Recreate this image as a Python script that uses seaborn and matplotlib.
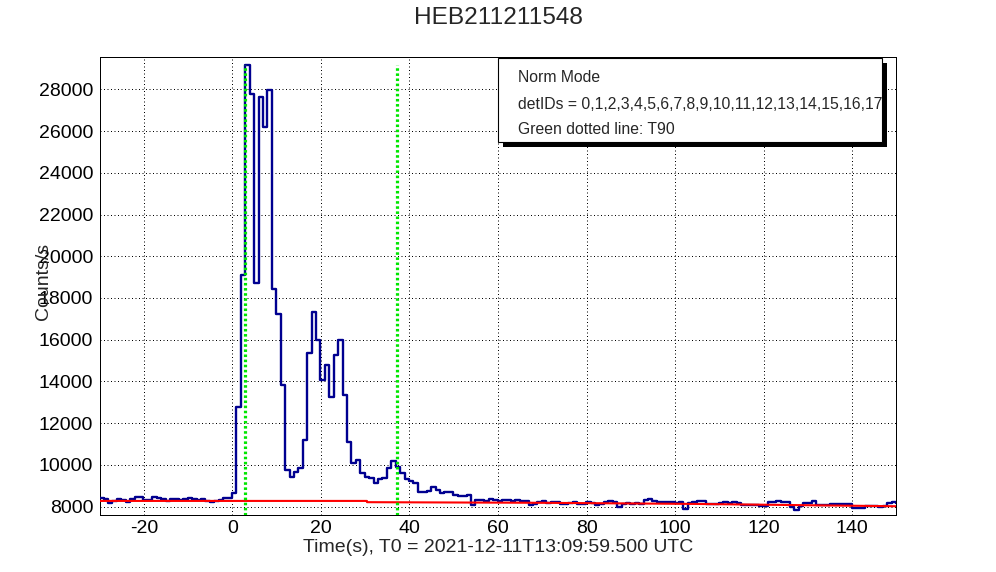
import numpy as np
import pandas as pd
import matplotlib
matplotlib.use("Agg")
import matplotlib.pyplot as plt
from matplotlib.patches import Rectangle
from matplotlib.ticker import MultipleLocator
import seaborn as sns


TITLE = "HEB211211548"
X_LABEL = "Time(s), T0 = 2021-12-11T13:09:59.500 UTC"
Y_LABEL = "Counts/s"
LEGEND_LINES = [
    "Norm Mode",
    "detIDs = 0,1,2,3,4,5,6,7,8,9,10,11,12,13,14,15,16,17",
    "Green dotted line: T90",
]

# 1 s light-curve bins, first bin starts at -30.1 s
BIN_START = -30.1
BIN_WIDTH = 1.0

pre_burst_rate = [
    8400, 8380, 8180, 8250, 8370, 8330, 8200, 8370, 8450, 8480,
    8300, 8320, 8440, 8400, 8370, 8250, 8360, 8370, 8320, 8380,
    8400, 8370, 8320, 8370, 8290, 8240, 8290, 8320, 8400, 8420,
]

burst_rate = [
    8640, 12800, 19100, 29150, 27800, 18700, 27650, 26200, 27950, 18450,
    17250, 13830, 9750, 9440, 9680, 9840, 11200, 15350, 17340, 15990,
    14070, 14800, 13270, 15270, 15990, 13350, 11120, 10080, 10240, 9600,
    9440, 9360, 9150, 9310, 9350, 9840, 10200, 9890, 9600, 9310,
    9250, 9150, 8720, 8720, 8760, 8930, 8800, 8640, 8700, 8720,
    8560, 8510, 8520, 8560, 8080, 8320,
]

tail_rate = [
    8330, 8290, 8350, 8310, 8270, 8330, 8300, 8260, 8330, 8290,
    8250, 8060, 8120, 8220, 8250, 8180, 8200, 8240, 8130, 8150,
    8180, 8210, 8120, 8150, 8230, 8180, 8090, 8140, 8200, 8260,
    8240, 7960, 8130, 8160, 8120, 8180, 8150, 8300, 8350, 8250,
    8220, 8200, 8240, 8200, 8180, 8220, 7900, 8190, 8200, 8270,
    8280, 8150, 8120, 8140, 8190, 8200, 8180, 8210, 8190, 8100,
    8080, 8060, 8090, 8040, 8030, 8240, 8230, 8250, 8220, 8240,
    8000, 7860, 8010, 8190, 8180, 8290, 8070, 8090, 8080, 8130,
    8120, 8140, 8130, 8120, 7940, 7920, 7930, 8030, 8040, 8020,
    8000, 8010, 8180, 8200, 8190,
]

# fitted background (red)
bkg_time = [-30, 30.4, 30.4, 70, 105, 150]
bkg_rate = [8275, 8275, 8215, 8185, 8130, 8020]

T90_START = 2.8
T90_END = 37.1

X_RANGE = (-30, 150)
Y_RANGE = (7610, 29540)

HIST_COLOR = "#000090"
BKG_COLOR = "#ff0000"
T90_COLOR = "#00e600"


def build_hist_frame():
    rates = pre_burst_rate + burst_rate + tail_rate
    left = BIN_START + np.arange(len(rates)) * BIN_WIDTH
    time = np.append(left, left[-1] + BIN_WIDTH)
    rate = np.append(rates, rates[-1])
    return pd.DataFrame({"time": time, "rate": rate})


def main():
    sns.set_style("white")
    plt.rcParams["font.family"] = ["Liberation Sans", "DejaVu Sans"]
    plt.rcParams["axes.unicode_minus"] = False

    fig = plt.figure(figsize=(9.96, 5.72), dpi=100)
    ax = fig.add_axes([0.1, 0.1, 0.8, 0.8])

    hist_df = build_hist_frame()
    bkg_df = pd.DataFrame({"time": bkg_time, "rate": bkg_rate})

    ax.grid(True, which="major", color="black", linewidth=0.72,
            linestyle=(0, (1, 2.5)))
    ax.set_axisbelow(True)

    sns.lineplot(data=hist_df, x="time", y="rate", drawstyle="steps-post",
                 color=HIST_COLOR, linewidth=1.7, estimator=None, sort=False,
                 ax=ax, zorder=3)
    sns.lineplot(data=bkg_df, x="time", y="rate", color=BKG_COLOR,
                 linewidth=1.5, estimator=None, sort=False, ax=ax, zorder=4)

    peak = max(burst_rate)
    ax.vlines([T90_START, T90_END], Y_RANGE[0], peak, colors=T90_COLOR,
              linewidth=2.3, linestyles=[(0, (0.8, 0.8))], zorder=5)

    ax.set_xlim(*X_RANGE)
    ax.set_ylim(*Y_RANGE)

    ax.xaxis.set_major_locator(MultipleLocator(20))
    ax.xaxis.set_minor_locator(MultipleLocator(5))
    ax.yaxis.set_major_locator(MultipleLocator(2000))
    ax.yaxis.set_minor_locator(MultipleLocator(500))

    ax.tick_params(axis="x", which="major", direction="in", length=10,
                   width=0.72, labelsize=14, pad=4, colors="black")
    ax.tick_params(axis="x", which="minor", direction="in", length=5,
                   width=0.72)
    ax.tick_params(axis="y", which="major", direction="in", length=17,
                   width=0.72, labelsize=14, pad=4.5, colors="black")
    ax.tick_params(axis="y", which="minor", direction="in", length=8.5,
                   width=0.72)

    for spine in ax.spines.values():
        spine.set_color("black")
        spine.set_linewidth(0.72)

    ax.set_xlabel(X_LABEL, fontsize=14)
    ax.xaxis.set_label_coords(0.5, -0.0704)
    ax.xaxis.label.set_va("center")
    ax.set_ylabel(Y_LABEL, fontsize=14)
    ax.yaxis.set_label_coords(-0.0706, 0.509)
    ax.yaxis.label.set_va("center")

    fig.text(0.5, 1 - 18 / 572, TITLE, ha="center", va="center",
             fontsize=17.6)

    # legend box with drop shadow
    W, H = 996.0, 572.0
    bx0, bx1, by0, by1 = 498.3, 881.7, 58.0, 142.3
    shadow = Rectangle(((bx0 + 5) / W, 1 - (by1 + 5) / H),
                       (bx1 - bx0) / W, (by1 - by0) / H,
                       transform=fig.transFigure, facecolor="black",
                       edgecolor="none", zorder=10)
    box = Rectangle((bx0 / W, 1 - by1 / H), (bx1 - bx0) / W,
                    (by1 - by0) / H, transform=fig.transFigure,
                    facecolor="white", edgecolor="black", linewidth=0.8,
                    zorder=11)
    fig.patches.extend([shadow, box])

    line_y = [77.7, 104.3, 130.0]
    for txt, yy in zip(LEGEND_LINES, line_y):
        fig.text(518.3 / W, 1 - yy / H, txt, ha="left", va="center",
                 fontsize=11.3, zorder=12)

    fig.savefig("out.png", dpi=100)


if __name__ == "__main__":
    main()
